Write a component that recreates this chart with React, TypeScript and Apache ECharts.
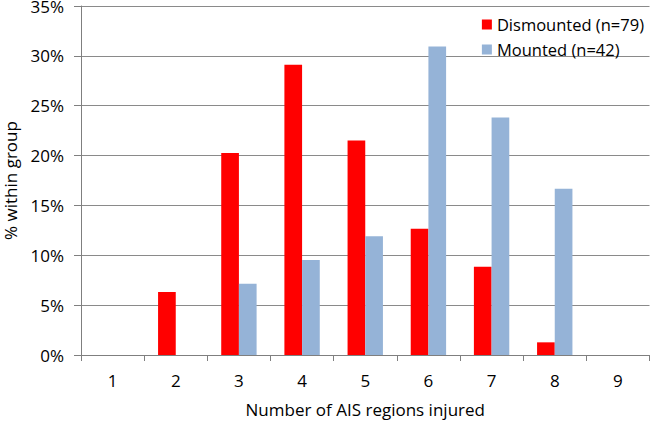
import React, { useEffect, useRef } from "react";
import * as echarts from "echarts";

const categories = ["1", "2", "3", "4", "5", "6", "7", "8", "9"];
const dismounted = [0, 6.33, 20.25, 29.11, 21.52, 12.66, 8.86, 1.27, 0];
const mounted = [0, 0, 7.14, 9.52, 11.9, 30.95, 23.81, 16.67, 0];
const seriesNames = ["Dismounted (n=79)", "Mounted (n=42)"];
const yTicks = { min: 0, max: 35, interval: 5 };

const FONT = "Open Sans";
const FS = 17;

export default function App() {
  const ref = useRef<HTMLDivElement>(null);
  useEffect(() => {
    if (!ref.current) return;
    const chart = echarts.init(ref.current, null, { renderer: "svg" });
    chart.setOption({
      animation: false,
      textStyle: { fontFamily: FONT },
      grid: { left: 81, right: 0.5, top: 6, bottom: 67, containLabel: false, outerBoundsMode: "none" },
      legend: {
        data: seriesNames,
        orient: "vertical",
        right: 1,
        top: 11,
        itemWidth: 10,
        itemHeight: 10,
        itemGap: 8,
        icon: "rect",
        align: "left",
        textStyle: { fontFamily: FONT, fontSize: 16.5, color: "#000" },
      },
      xAxis: {
        type: "category",
        data: categories,
        name: "Number of AIS regions injured",
        nameLocation: "middle",
        nameGap: 46,
        nameTextStyle: { fontFamily: FONT, fontSize: FS, color: "#000" },
        axisLine: { lineStyle: { color: "#7f7f7f", width: 1 } },
        axisTick: { show: true, length: 6, interval: 0, alignWithLabel: false, lineStyle: { color: "#7f7f7f" } },
        axisLabel: { fontFamily: FONT, fontSize: FS, color: "#000", margin: 17 },
        splitLine: { show: false },
      },
      yAxis: {
        type: "value",
        min: yTicks.min,
        max: yTicks.max,
        interval: yTicks.interval,
        name: "% within group",
        nameLocation: "middle",
        nameGap: 62,
        nameRotate: 90,
        nameTextStyle: { fontFamily: FONT, fontSize: FS, color: "#000" },
        axisLine: { show: true, lineStyle: { color: "#7f7f7f", width: 1 } },
        axisTick: { show: true, length: 7, lineStyle: { color: "#7f7f7f" } },
        axisLabel: { formatter: "{value}%", fontFamily: FONT, fontSize: FS, color: "#000", margin: 17 },
        splitLine: { show: true, lineStyle: { color: "#8a8a8a", width: 1 } },
      },
      series: [
        {
          name: seriesNames[0],
          type: "bar",
          data: dismounted,
          itemStyle: { color: "#FF0000" },
          barGap: "0%",
          barCategoryGap: "44%",
        },
        {
          name: seriesNames[1],
          type: "bar",
          data: mounted,
          itemStyle: { color: "#95B3D7" },
          barGap: "0%",
          barCategoryGap: "44%",
        },
      ],
    });
    return () => chart.dispose();
  }, []);
  return <div ref={ref} style={{ position: "absolute", left: 0, top: 0, width: 650, height: 422 }} />;
}
